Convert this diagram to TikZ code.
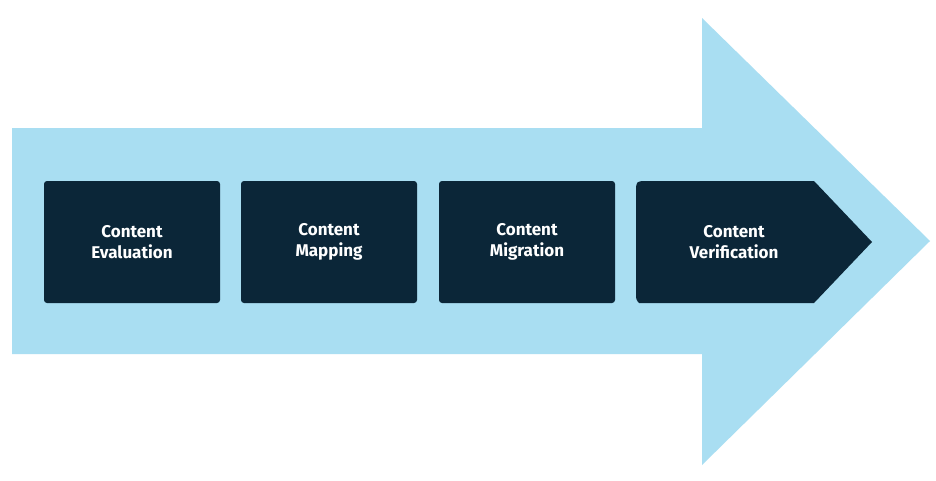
\documentclass[tikz,border=0pt]{standalone}
\usepackage{fontspec}
\setmainfont{Fira Sans}
\definecolor{lightblue}{HTML}{A9DEF2}
\definecolor{navy}{HTML}{0B2638}
\begin{document}
\begin{tikzpicture}[x=1pt,y=-1pt,
  stepbox/.style={fill=navy,rounded corners=3pt},
  lbl/.style={text=white,font=\fontsize{17}{21}\selectfont\bfseries,align=center}]
\useasboundingbox (0,0) rectangle (936,480);
\fill[white] (0,0) rectangle (936,480);
\fill[lightblue] (12,128) -- (702,128) -- (702,18) -- (930,241) -- (702,465) -- (702,354) -- (12,354) -- cycle;
\fill[stepbox] (44,181) rectangle (220,303);
\fill[stepbox] (241,181) rectangle (417,303);
\fill[stepbox] (439,181) rectangle (615,303);
\fill[navy] (639,181) -- (814,181) -- (872,242) -- (814,303) -- (639,303) [rounded corners=3pt] -- (636,300) -- (636,184) -- cycle;
\node[lbl] (a) at (132,242) {Content\\Evaluation};
\node[lbl] (b) at (329,242) {Content\\Mapping};
\node[lbl] (c) at (527,242) {Content\\Migration};
\node[lbl] (d) at (734,242) {Content\\Verification};
\end{tikzpicture}
\end{document}
